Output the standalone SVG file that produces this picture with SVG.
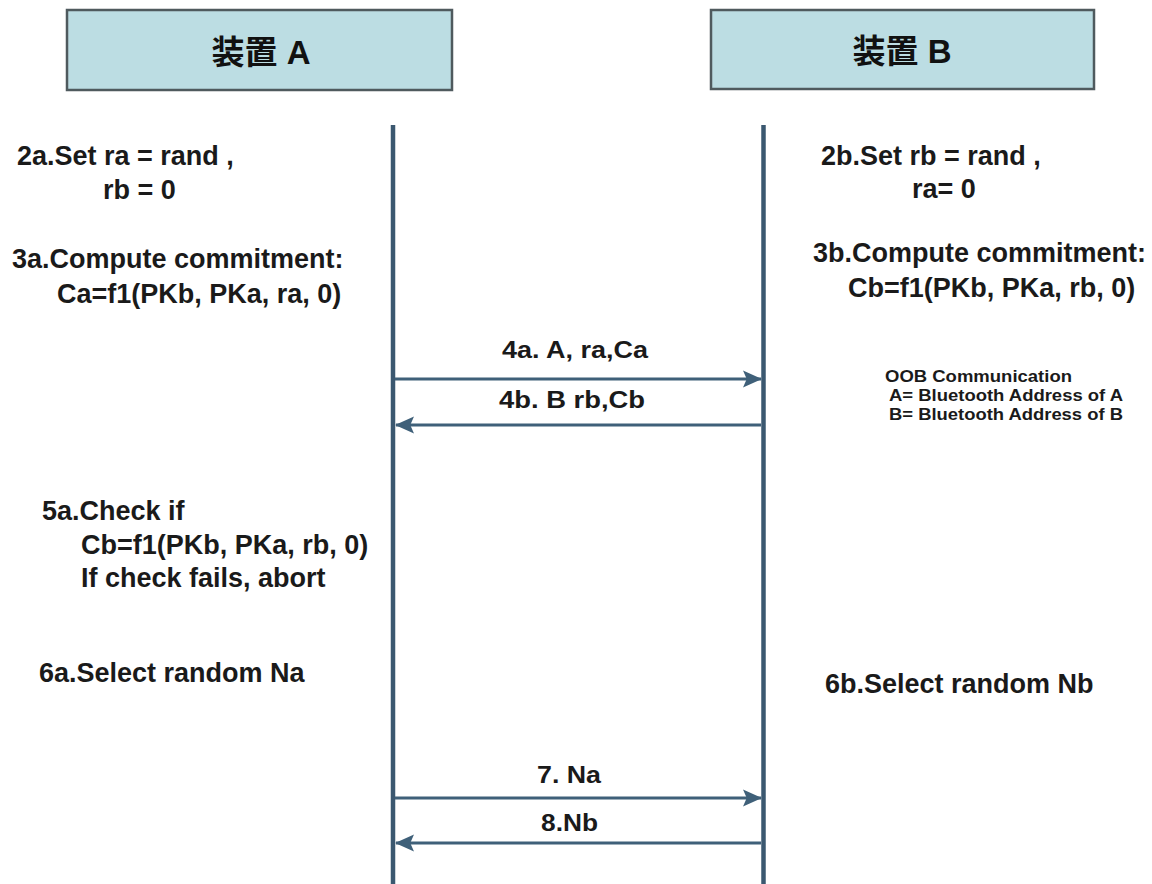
<svg xmlns="http://www.w3.org/2000/svg" width="1152" height="884" viewBox="0 0 1152 884">
  <style>
    .hdr { fill: #bcdde3; stroke: #4f5a5e; stroke-width: 2.5; }
    .hdr-t { font-family: "Liberation Sans", "Noto Sans CJK JP", "Noto Sans CJK SC", sans-serif; font-weight: bold; font-size: 33px; fill: #111; text-anchor: middle; }
    .life { stroke: #3b5870; stroke-width: 4.5; fill: none; }
    .msg { stroke: #3f6079; stroke-width: 2.8; fill: none; }
    .t { font-family: "Liberation Sans", Arial, sans-serif; font-weight: bold; font-size: 27px; fill: #1a1a1a; }
    .lbl { font-family: "Liberation Sans", Arial, sans-serif; font-weight: bold; font-size: 23px; fill: #1a1a1a; }
    .note { font-family: "Liberation Sans", Arial, sans-serif; font-weight: bold; font-size: 17px; fill: #1a1a1a; }
  </style>
  <defs>
    <marker id="arrow" viewBox="0 0 20 20" refX="19" refY="10" markerWidth="19" markerHeight="19" markerUnits="userSpaceOnUse" orient="auto">
      <path d="M0,1 L20,10 L0,19 L4,10 Z" fill="#3f6079"/>
    </marker>
  </defs>

  <rect width="1152" height="884" fill="#ffffff"/>

  <!-- Device A header and lifeline -->
  <g id="deviceA">
    <rect class="hdr" x="67" y="10" width="385" height="80"/>
    <text class="hdr-t" x="261" y="64">装置 A</text>
    <line class="life" x1="393" y1="125" x2="393" y2="884"/>
  </g>

  <!-- Device B header and lifeline -->
  <g id="deviceB">
    <rect class="hdr" x="711" y="10" width="383" height="79"/>
    <text class="hdr-t" x="902" y="63">装置 B</text>
    <line class="life" x1="763.5" y1="125" x2="763.5" y2="884"/>
  </g>

  <!-- Messages between the devices -->
  <g id="connectors">
    <line class="msg" x1="395" y1="379" x2="761" y2="379" marker-end="url(#arrow)"/>
    <line class="msg" x1="761" y1="425" x2="396" y2="425" marker-end="url(#arrow)"/>
    <line class="msg" x1="395" y1="798" x2="761" y2="798" marker-end="url(#arrow)"/>
    <line class="msg" x1="761" y1="843" x2="396" y2="843" marker-end="url(#arrow)"/>
  </g>

  <g id="msg-labels">
    <text class="lbl" x="502" y="358" textLength="146" lengthAdjust="spacingAndGlyphs">4a. A, ra,Ca</text>
    <text class="lbl" x="499" y="408" textLength="146" lengthAdjust="spacingAndGlyphs">4b. B rb,Cb</text>
    <text class="lbl" x="537" y="783" textLength="64" lengthAdjust="spacingAndGlyphs">7. Na</text>
    <text class="lbl" x="541" y="831" textLength="57" lengthAdjust="spacingAndGlyphs">8.Nb</text>
  </g>

  <!-- Steps performed by A -->
  <g id="stepsA">
    <text class="t" x="17" y="165">2a.Set ra = rand ,</text>
    <text class="t" x="103" y="199">rb = 0</text>
    <text class="t" x="12" y="268">3a.Compute commitment:</text>
    <text class="t" x="57" y="303">Ca=f1(PKb, PKa, ra, 0)</text>
    <text class="t" x="42" y="520">5a.Check if</text>
    <text class="t" x="81" y="554">Cb=f1(PKb, PKa, rb, 0)</text>
    <text class="t" x="81" y="587">If check fails, abort</text>
    <text class="t" x="39" y="682">6a.Select random Na</text>
  </g>

  <!-- Steps performed by B -->
  <g id="stepsB">
    <text class="t" x="821" y="165">2b.Set rb = rand ,</text>
    <text class="t" x="912" y="198">ra= 0</text>
    <text class="t" x="813" y="262">3b.Compute commitment:</text>
    <text class="t" x="848" y="297">Cb=f1(PKb, PKa, rb, 0)</text>
    <text class="t" x="825" y="693">6b.Select random Nb</text>
  </g>

  <!-- Out-of-band note -->
  <g id="oob-note">
    <text class="note" x="885" y="382" textLength="187" lengthAdjust="spacingAndGlyphs">OOB Communication</text>
    <text class="note" x="889" y="401" textLength="234" lengthAdjust="spacingAndGlyphs">A= Bluetooth Address of A</text>
    <text class="note" x="889" y="420" textLength="234" lengthAdjust="spacingAndGlyphs">B= Bluetooth Address of B</text>
  </g>
</svg>
